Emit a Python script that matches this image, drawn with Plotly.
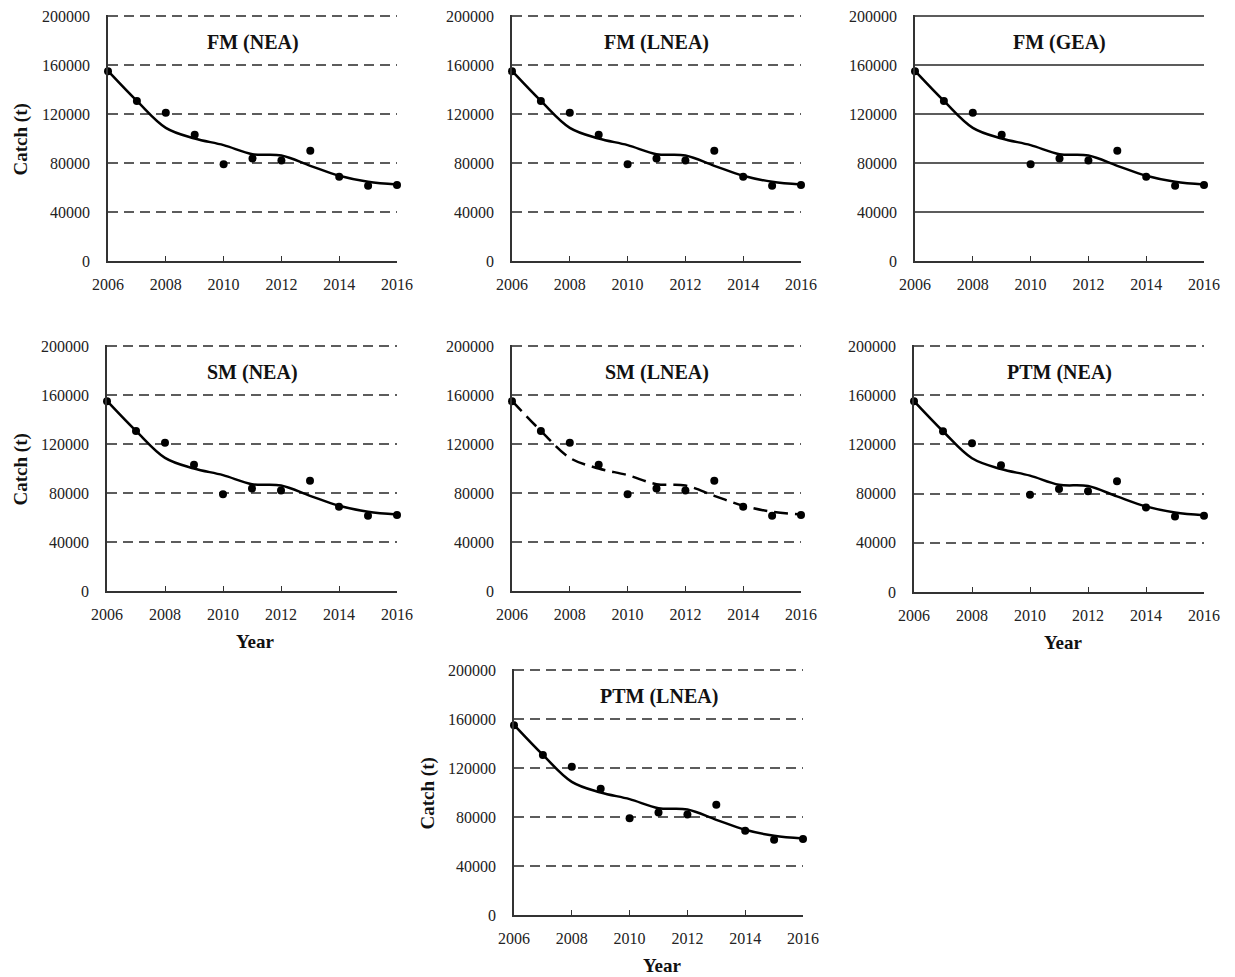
import plotly.graph_objects as go

# ---------------- data ----------------
years = [2006, 2007, 2008, 2009, 2010, 2011, 2012, 2013, 2014, 2015, 2016]
observed = [155000, 130700, 121000, 103000, 79000, 83700, 82000, 90000, 68800, 61400, 62000]
fitted = [155200, 130700, 108700, 100000, 94600, 87200, 86100, 77700, 69600, 64700, 62500]
panel_titles = ["FM (NEA)", "FM (LNEA)", "FM (GEA)", "SM (NEA)", "SM (LNEA)", "PTM (NEA)", "PTM (LNEA)"]
y_ticks = [0, 40000, 80000, 120000, 160000, 200000]
x_ticks = [2006, 2008, 2010, 2012, 2014, 2016]

# ---------------- layout geometry (page pixels) ----------------
PAGE_W, PAGE_H = 1235, 977
OFF = 8  # default page body margin
W, H = PAGE_W - OFF, PAGE_H - OFF
# (left, right, top, bottom) in page pixels
boxes = [
    (108, 397, 16, 261),
    (512, 801, 16, 261),
    (915, 1204, 16, 261),
    (107, 397, 346, 591),
    (512, 801, 346, 591),
    (914, 1204, 346, 592),
    (514, 803, 670, 915),
]
curve_dash = ["solid", "solid", "solid", "solid", "14px,7px", "solid", "solid"]
grid_dash = ["10px,6px", "10px,6px", "solid", "10px,6px", "10px,6px", "10px,6px", "10px,6px"]
show_catch = [True, False, False, True, False, False, True]
show_year = [False, False, False, True, False, True, True]

SERIF = "Liberation Serif, Times New Roman, serif"
YMAX = 201000  # small headroom so the 200000 gridline is drawn


def px(v):
    return (v - OFF) / W


def py(v):
    return 1 - (v - OFF) / H


fig = go.Figure()
annotations = []
layout_axes = {}

for i, (l, r, t, b) in enumerate(boxes):
    n = i + 1
    xa = "x" if n == 1 else f"x{n}"
    ya = "y" if n == 1 else f"y{n}"
    xkey = "xaxis" if n == 1 else f"xaxis{n}"
    ykey = "yaxis" if n == 1 else f"yaxis{n}"
    top_px = b - (b - t) * YMAX / 200000.0

    fig.add_trace(go.Scatter(
        x=years, y=fitted, mode="lines",
        line=dict(color="black", width=2.5, shape="spline", smoothing=1.0, dash=curve_dash[i]),
        xaxis=xa, yaxis=ya, showlegend=False, hoverinfo="skip", cliponaxis=False,
    ))
    fig.add_trace(go.Scatter(
        x=years, y=observed, mode="markers",
        marker=dict(color="black", size=8),
        xaxis=xa, yaxis=ya, showlegend=False, cliponaxis=False,
    ))

    layout_axes[xkey] = dict(
        domain=[px(l), px(r)], anchor=ya, range=[2006, 2016],
        tickvals=x_ticks, ticktext=[str(v) for v in x_ticks],
        ticks="inside", ticklen=5, tickwidth=1.3, tickcolor="#333",
        showline=True, linecolor="#333", linewidth=1.6,
        showgrid=False, zeroline=False, automargin=False,
        tickfont=dict(family=SERIF, size=16, color="#222"),
        ticklabelstandoff=8, ticklabeloverflow="allow",
    )
    layout_axes[ykey] = dict(
        domain=[py(b), py(top_px)], anchor=xa, range=[0, YMAX],
        tickvals=y_ticks, ticktext=[str(v) for v in y_ticks],
        ticks="", showline=True, linecolor="#333", linewidth=1.6,
        showgrid=True, gridcolor="#5c5c5c", gridwidth=1.5, griddash=grid_dash[i],
        zeroline=False, automargin=False,
        tickfont=dict(family=SERIF, size=16, color="#222"),
        ticklabelstandoff=13, ticklabeloverflow="allow",
    )

    annotations.append(dict(
        text=f"<b>{panel_titles[i]}</b>", xref="paper", yref="paper",
        x=px((l + r) / 2), y=py(t + 26), xanchor="center", yanchor="middle",
        showarrow=False, font=dict(family=SERIF, size=20, color="#111"),
    ))
    if show_catch[i]:
        annotations.append(dict(
            text="<b>Catch (t)</b>", xref="paper", yref="paper",
            x=px(l - 87), y=py((t + b) / 2 + 1), xanchor="center", yanchor="middle",
            textangle=-90, showarrow=False, font=dict(family=SERIF, size=19, color="#111"),
        ))
    if show_year[i]:
        annotations.append(dict(
            text="<b>Year</b>", xref="paper", yref="paper",
            x=px((l + r) / 2 + 4), y=py(b + 50), xanchor="center", yanchor="middle",
            showarrow=False, font=dict(family=SERIF, size=19, color="#111"),
        ))

fig.update_layout(
    template="none",
    width=W, height=H,
    margin=dict(l=0, r=0, t=0, b=0, autoexpand=False),
    paper_bgcolor="white", plot_bgcolor="white",
    annotations=annotations,
    showlegend=False,
    **layout_axes,
)

fig.write_html("out.html")
